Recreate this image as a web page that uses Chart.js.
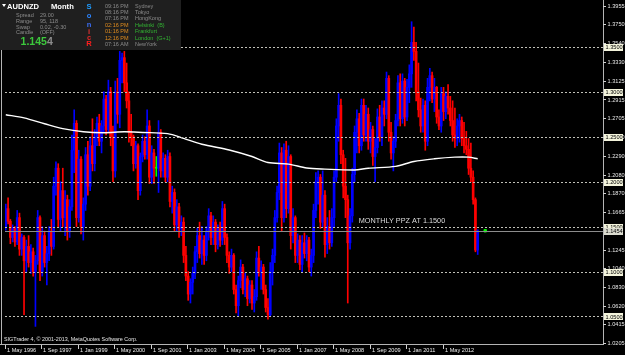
<!DOCTYPE html>
<html>
<head>
<meta charset="utf-8">
<script src="https://cdn.jsdelivr.net/npm/chart.js@4.4.1/dist/chart.umd.min.js"></script>
<style>
  html, body { margin: 0; padding: 0; background: #000; }
  canvas { display: block; }
</style>
</head>
<body>
<canvas id="chart" width="625" height="355"></canvas>
<script>
// AUDNZD monthly candles, index 0 = May 1996
const opens = [
  1.150,1.170,1.156,1.138,1.148,1.133,1.160,1.125,1.138,1.112,1.128,1.110,1.122,1.100,1.112,1.160,1.100,1.140,1.110,1.120,
  1.145,1.128,1.195,1.215,1.158,1.190,1.160,1.180,1.145,1.172,1.235,1.265,1.160,1.225,1.150,1.175,1.230,1.195,1.240,1.220,
  1.250,1.265,1.245,1.262,1.292,1.258,1.300,1.250,1.212,1.300,1.275,1.335,1.338,1.310,1.290,1.255,1.250,1.220,1.240,1.190,
  1.228,1.245,1.230,1.262,1.205,1.232,1.215,1.215,1.255,1.212,1.226,1.205,1.228,1.178,1.188,1.152,1.172,1.148,1.155,1.118,
  1.095,1.075,1.088,1.098,1.122,1.140,1.120,1.135,1.118,1.145,1.162,1.138,1.155,1.130,1.148,1.135,1.170,1.138,1.118,1.105,
  1.118,1.080,1.062,1.090,1.105,1.080,1.092,1.070,1.085,1.065,1.072,1.115,1.100,1.105,1.080,1.060,1.052,1.100,1.118,1.160,
  1.188,1.232,1.160,1.235,1.170,1.228,1.140,1.160,1.118,1.135,1.108,1.132,1.120,1.135,1.105,1.118,1.168,1.200,1.205,1.155,
  1.185,1.130,1.150,1.132,1.160,1.205,1.262,1.285,1.230,1.195,1.180,1.132,1.162,1.208,1.255,1.270,1.240,1.285,1.252,1.275,
  1.245,1.258,1.228,1.238,1.272,1.250,1.282,1.275,1.315,1.255,1.232,1.245,1.268,1.310,1.270,1.312,1.272,1.305,1.320,1.355,
  1.345,1.300,1.280,1.262,1.285,1.245,1.305,1.318,1.292,1.305,1.272,1.262,1.298,1.278,1.295,1.282,1.268,1.252,1.248,1.262,
  1.268,1.248,1.240,1.236,1.215,1.205,1.180,1.124
];
const highs = [
  1.175,1.182,1.158,1.152,1.150,1.168,1.165,1.142,1.140,1.135,1.140,1.130,1.126,1.118,1.168,1.162,1.150,1.145,1.128,1.150,
  1.158,1.205,1.222,1.220,1.200,1.215,1.190,1.185,1.180,1.252,1.280,1.268,1.235,1.228,1.182,1.238,1.245,1.250,1.270,1.258,
  1.272,1.275,1.268,1.300,1.296,1.313,1.305,1.262,1.312,1.315,1.345,1.343,1.345,1.332,1.300,1.275,1.252,1.245,1.242,1.232,
  1.252,1.250,1.280,1.268,1.240,1.236,1.228,1.268,1.258,1.232,1.230,1.235,1.232,1.195,1.192,1.180,1.176,1.162,1.160,1.128,
  1.100,1.092,1.105,1.128,1.148,1.155,1.150,1.140,1.150,1.170,1.166,1.162,1.158,1.152,1.155,1.178,1.175,1.142,1.122,1.125,
  1.120,1.085,1.095,1.113,1.108,1.098,1.095,1.090,1.090,1.080,1.122,1.128,1.112,1.108,1.085,1.070,1.110,1.125,1.168,1.195,
  1.243,1.238,1.242,1.245,1.240,1.230,1.170,1.162,1.142,1.140,1.140,1.143,1.140,1.138,1.125,1.175,1.210,1.212,1.208,1.212,
  1.190,1.160,1.168,1.170,1.212,1.270,1.298,1.292,1.235,1.226,1.185,1.170,1.215,1.262,1.280,1.276,1.292,1.292,1.285,1.282,
  1.266,1.262,1.248,1.281,1.285,1.290,1.290,1.322,1.318,1.266,1.250,1.275,1.318,1.320,1.320,1.315,1.314,1.330,1.378,1.372,
  1.355,1.332,1.293,1.292,1.290,1.315,1.326,1.322,1.315,1.306,1.280,1.305,1.305,1.300,1.308,1.295,1.290,1.282,1.270,1.275,
  1.272,1.266,1.256,1.248,1.243,1.212,1.182,1.1466
];
const lows = [
  1.146,1.153,1.131,1.133,1.128,1.130,1.118,1.118,1.052,1.100,1.105,1.098,1.095,1.039,1.108,1.090,1.095,1.105,1.085,1.112,
  1.118,1.125,1.185,1.150,1.145,1.150,1.140,1.135,1.138,1.168,1.210,1.150,1.155,1.142,1.135,1.168,1.185,1.190,1.212,1.212,
  1.240,1.240,1.232,1.255,1.252,1.255,1.240,1.200,1.205,1.265,1.260,1.310,1.300,1.282,1.244,1.240,1.212,1.215,1.180,1.185,
  1.222,1.225,1.225,1.198,1.198,1.198,1.206,1.188,1.205,1.205,1.200,1.200,1.172,1.165,1.145,1.145,1.138,1.140,1.110,1.090,
  1.068,1.065,1.075,1.092,1.110,1.115,1.108,1.108,1.112,1.135,1.130,1.130,1.122,1.125,1.128,1.130,1.130,1.110,1.098,1.100,
  1.075,1.054,1.050,1.082,1.075,1.072,1.062,1.065,1.058,1.055,1.068,1.095,1.080,1.075,1.055,1.047,1.050,1.085,1.110,1.155,
  1.180,1.145,1.155,1.160,1.165,1.125,1.132,1.110,1.110,1.102,1.100,1.115,1.112,1.100,1.095,1.110,1.160,1.175,1.148,1.150,
  1.116,1.120,1.125,1.128,1.150,1.200,1.245,1.220,1.182,1.160,1.065,1.125,1.155,1.200,1.232,1.232,1.235,1.245,1.245,1.236,
  1.232,1.218,1.200,1.232,1.245,1.240,1.262,1.270,1.245,1.225,1.212,1.238,1.262,1.262,1.265,1.262,1.268,1.288,1.305,1.335,
  1.290,1.272,1.255,1.255,1.235,1.240,1.290,1.288,1.278,1.265,1.258,1.255,1.268,1.270,1.275,1.262,1.245,1.238,1.240,1.244,
  1.240,1.232,1.230,1.208,1.200,1.175,1.122,1.119
];
const closes = [
  1.170,1.156,1.138,1.148,1.133,1.160,1.125,1.138,1.112,1.128,1.110,1.122,1.100,1.112,1.160,1.100,1.140,1.110,1.120,1.145,
  1.128,1.195,1.215,1.158,1.190,1.160,1.180,1.145,1.172,1.235,1.265,1.160,1.225,1.150,1.175,1.230,1.195,1.240,1.220,1.250,
  1.265,1.245,1.262,1.292,1.258,1.300,1.250,1.212,1.300,1.275,1.335,1.338,1.310,1.290,1.255,1.250,1.220,1.240,1.190,1.228,
  1.245,1.230,1.262,1.205,1.232,1.215,1.215,1.255,1.212,1.226,1.205,1.228,1.178,1.188,1.152,1.172,1.148,1.155,1.118,1.095,
  1.075,1.088,1.098,1.122,1.140,1.120,1.135,1.118,1.145,1.162,1.138,1.155,1.130,1.148,1.135,1.170,1.138,1.118,1.105,1.118,
  1.080,1.062,1.090,1.105,1.080,1.092,1.070,1.085,1.065,1.072,1.115,1.100,1.105,1.080,1.060,1.052,1.100,1.118,1.160,1.188,
  1.232,1.160,1.235,1.170,1.228,1.140,1.160,1.118,1.135,1.108,1.132,1.120,1.135,1.105,1.118,1.168,1.200,1.205,1.155,1.185,
  1.130,1.150,1.132,1.160,1.205,1.262,1.285,1.230,1.195,1.180,1.132,1.162,1.208,1.255,1.270,1.240,1.285,1.252,1.275,1.245,
  1.258,1.228,1.238,1.272,1.250,1.282,1.275,1.315,1.255,1.232,1.245,1.268,1.310,1.270,1.312,1.272,1.305,1.320,1.355,1.345,
  1.300,1.280,1.262,1.285,1.245,1.305,1.318,1.292,1.305,1.272,1.262,1.298,1.278,1.295,1.282,1.268,1.252,1.248,1.262,1.268,
  1.248,1.240,1.236,1.215,1.205,1.180,1.124,1.1454
];

// long moving average (white line), read at a few months
const maMonths = [0, 8, 17, 25, 34, 43, 52, 60, 71, 78, 86, 98, 108, 115, 124, 132, 140, 153, 159, 171, 179, 188, 197, 203, 207];
const maValues = [1.2745, 1.2710, 1.2645, 1.2590, 1.2555, 1.2545, 1.2555, 1.2548, 1.2535, 1.2482, 1.2416, 1.2353, 1.2280,
                  1.2214, 1.2196, 1.2152, 1.2140, 1.2130, 1.2150, 1.2170, 1.2225, 1.2255, 1.2273, 1.2273, 1.2255];

// axis ticks
const xTickMonths = [0, 16, 32, 48, 64, 80, 96, 112, 128, 144, 160, 176, 192];
const xTickLabels = ["1 May 1996", "1 Sep 1997", "1 Jan 1999", "1 May 2000", "1 Sep 2001", "1 Jan 2003", "1 May 2004",
                     "1 Sep 2005", "1 Jan 2007", "1 May 2008", "1 Sep 2009", "1 Jan 2011", "1 May 2012"];
const yTickValues = [1.3955, 1.3750, 1.3540, 1.3330, 1.3125, 1.2915, 1.2705, 1.2500, 1.2290, 1.2080, 1.1870, 1.1665,
                     1.1245, 1.1040, 1.0830, 1.0620, 1.0415, 1.0205];
const levelLines = [1.35, 1.30, 1.25, 1.20, 1.15, 1.10, 1.05];
const bidPrice = 1.1454;

// ppz marker and label
const dotMonth = 210.3;
const dotPrice = 1.1454;
const noteMonth = 154.8;
const notePrice = 1.1568;
const noteText = "MONTHLY PPZ AT 1.1500";

const infoLeft = [["Spread", "29.00"], ["Range", "95, 118"], ["Swap", "0.02, -0.30"], ["Candle", "(OFF)"]];
const sonicLetters = ["S", "o", "n", "i", "c", "R"];
const sessionTimes = ["09:16 PM", "08:16 PM", "07:16 PM", "02:16 PM", "01:16 PM", "12:16 PM", "07:16 AM"];
const sessionCities = ["Sydney", "Tokyo", "HongKong", "Helsinki  (B)", "Frankfurt", "London  (G+1)", "NewYork"];

const FONT = "'Liberation Sans', Arial, sans-serif";

function candleColor(i) {
    if (closes[i] > opens[i]) return "#0000ff";
    if (closes[i] < opens[i]) return "#ff0000";
    return "#00ff00";
}
const colors = opens.map((o, i) => candleColor(i));

const mt4Plugin = {
    id: "mt4",
    beforeDraw(chart) {
        const ctx = chart.ctx;
        ctx.save();
        ctx.fillStyle = "#000000";
        ctx.fillRect(0, 0, chart.width, chart.height);
        ctx.restore();
    },
    afterDraw(chart) {
        const ctx = chart.ctx;
        const xs = chart.scales.x;
        const ys = chart.scales.y;
        const area = chart.chartArea;
        ctx.save();

        // horizontal level lines
        ctx.lineWidth = 1;
        ctx.setLineDash([2, 2]);
        ctx.strokeStyle = "#c0c0b8";
        levelLines.forEach(v => {
            const y = Math.round(ys.getPixelForValue(v)) + 0.5;
            ctx.beginPath();
            ctx.moveTo(area.left, y);
            ctx.lineTo(area.right, y);
            ctx.stroke();
        });
        ctx.setLineDash([]);
        ctx.strokeStyle = "#8c8c8c";
        const yb = Math.round(ys.getPixelForValue(bidPrice)) + 0.5;
        ctx.beginPath();
        ctx.moveTo(area.left, yb);
        ctx.lineTo(area.right, yb);
        ctx.stroke();

        // frame
        ctx.strokeStyle = "#b4b4b4";
        ctx.beginPath();
        ctx.moveTo(1.5, 0);
        ctx.lineTo(1.5, area.bottom);
        ctx.moveTo(0, area.bottom + 0.5);
        ctx.lineTo(area.right, area.bottom + 0.5);
        ctx.moveTo(area.right + 0.5, 0);
        ctx.lineTo(area.right + 0.5, area.bottom + 1);
        ctx.stroke();

        // price axis
        ctx.font = "5.6px " + FONT;
        ctx.textBaseline = "middle";
        ctx.textAlign = "left";
        ctx.strokeStyle = "#d0d0d0";
        yTickValues.forEach(v => {
            const y = ys.getPixelForValue(v);
            ctx.beginPath();
            ctx.moveTo(area.right, Math.round(y) + 0.5);
            ctx.lineTo(area.right + 3, Math.round(y) + 0.5);
            ctx.stroke();
            ctx.fillStyle = "#e6e6e6";
            ctx.fillText(v.toFixed(4), area.right + 4.5, y + 0.5);
        });
        levelLines.concat([bidPrice]).forEach(v => {
            const y = ys.getPixelForValue(v);
            ctx.fillStyle = v === bidPrice ? "#dcdcd0" : "#f4f4dc";
            ctx.fillRect(area.right + 1, Math.round(y) - 3, 19, 7);
            ctx.fillStyle = "#000000";
            ctx.fillText(v.toFixed(4), area.right + 2.5, y + 0.5);
        });

        // time axis
        ctx.strokeStyle = "#d0d0d0";
        xTickMonths.forEach((m, k) => {
            const x = Math.round(xs.getPixelForValue(m)) - 0.5;
            ctx.beginPath();
            ctx.moveTo(x, area.bottom + 1);
            ctx.lineTo(x, area.bottom + 5);
            ctx.stroke();
            ctx.fillStyle = "#ececec";
            ctx.fillText(xTickLabels[k], x + 1.5, area.bottom + 6.5);
        });

        // copyright
        ctx.fillStyle = "#e6e6e6";
        ctx.font = "5.4px " + FONT;
        ctx.fillText("SIGTrader 4, \u00a9 2001-2013, MetaQuotes Software Corp.", 4, 340);

        // note text
        ctx.font = "7.3px " + FONT;
        ctx.fillStyle = "#dcdcdc";
        ctx.fillText(noteText, xs.getPixelForValue(noteMonth), ys.getPixelForValue(notePrice));

        // info panel
        ctx.fillStyle = "#1f1f1f";
        ctx.fillRect(0, 0, 181, 50);
        ctx.fillStyle = "#ffffff";
        ctx.beginPath();
        ctx.moveTo(2, 4);
        ctx.lineTo(6, 4);
        ctx.lineTo(4, 7);
        ctx.closePath();
        ctx.fill();
        ctx.font = "bold 7.6px " + FONT;
        ctx.fillText("AUDNZD", 7, 6.5);
        ctx.fillText("Month", 51, 6.5);

        ctx.font = "5.5px " + FONT;
        ctx.fillStyle = "#8c8c8c";
        infoLeft.forEach((row, k) => {
            const y = 15.5 + k * 5.8;
            ctx.fillText(row[0], 16, y);
            ctx.fillText(row[1], 40, y);
        });

        ctx.font = "bold 10.6px " + FONT;
        ctx.fillStyle = "#3cc83c";
        const big = "1.145";
        ctx.fillText(big, 20.5, 42.5);
        const w = ctx.measureText(big).width;
        ctx.fillStyle = "#8c8c8c";
        ctx.fillText("4", 20.5 + w, 42.5);

        const sonicColors = ["#1e9bff", "#2b84ff", "#3b6cf0", "#e03030", "#e02828", "#ff1e1e"];
        const sonicY = [7, 16, 24.5, 31.5, 37.5, 44];
        ctx.font = "bold 7.6px " + FONT;
        ctx.textAlign = "center";
        sonicLetters.forEach((ch, k) => {
            ctx.fillStyle = sonicColors[k];
            ctx.fillText(ch, 89, sonicY[k]);
        });
        ctx.textAlign = "left";

        ctx.font = "5.5px " + FONT;
        sessionTimes.forEach((t, k) => {
            const y = 6 + k * 6.4;
            const open = k >= 3 && k <= 5;
            ctx.fillStyle = open ? "#e08c1e" : "#8c8c8c";
            ctx.fillText(t, 105, y);
            ctx.fillStyle = open ? "#32b432" : "#8c8c8c";
            ctx.fillText(sessionCities[k], 135, y);
        });

        ctx.restore();
    }
};

const ctx = document.getElementById("chart").getContext("2d");
new Chart(ctx, {
    type: "bar",
    data: {
        datasets: [
            {
                label: "wicks",
                data: opens.map((o, i) => ({ x: i, y: [lows[i], highs[i]] })),
                backgroundColor: colors,
                barThickness: 1,
                grouped: false,
                order: 3
            },
            {
                label: "bodies",
                data: opens.map((o, i) => ({ x: i, y: [o, closes[i]] })),
                backgroundColor: colors,
                barThickness: 2,
                minBarLength: 1,
                grouped: false,
                order: 2
            },
            {
                type: "line",
                label: "MA",
                data: maMonths.map((m, k) => ({ x: m, y: maValues[k] })),
                borderColor: "#ffffff",
                borderWidth: 1.4,
                pointRadius: 0,
                tension: 0.3,
                order: 1
            },
            {
                type: "line",
                label: "ppz",
                data: [{ x: dotMonth, y: dotPrice }],
                showLine: false,
                pointStyle: "rect",
                pointRadius: 1.7,
                backgroundColor: "#00ff00",
                borderColor: "#00ff00",
                order: 0
            }
        ]
    },
    options: {
        responsive: false,
        animation: false,
        devicePixelRatio: 1,
        layout: { padding: { left: 1, top: 0, right: 0, bottom: 0 } },
        plugins: { legend: { display: false }, tooltip: { enabled: false } },
        scales: {
            x: {
                type: "linear",
                min: -0.35,
                max: 261.96,
                offset: false,
                grid: { display: false },
                border: { display: false },
                ticks: { display: false },
                afterFit: scale => { scale.height = 11; }
            },
            y: {
                type: "linear",
                position: "right",
                min: 1.0194,
                max: 1.3966,
                grid: { display: false },
                border: { display: false },
                ticks: { display: false },
                afterFit: scale => { scale.width = 22; }
            }
        }
    },
    plugins: [mt4Plugin]
});
</script>
</body>
</html>
